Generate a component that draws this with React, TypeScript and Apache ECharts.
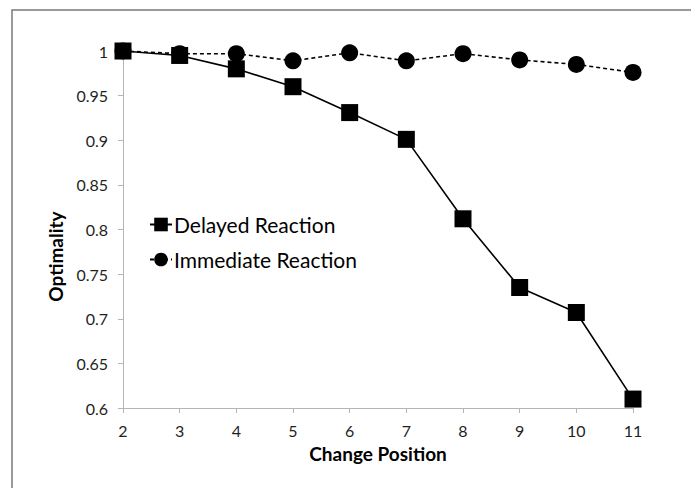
import React, { useEffect, useRef } from "react";
import * as echarts from "echarts";

const positions = [2, 3, 4, 5, 6, 7, 8, 9, 10, 11];
const delayedReaction = [1.0, 0.995, 0.98, 0.96, 0.931, 0.901, 0.812, 0.735, 0.707, 0.61];
const immediateReaction = [1.0, 0.997, 0.997, 0.989, 0.998, 0.989, 0.997, 0.99, 0.985, 0.976];
const seriesNames = ["Delayed Reaction", "Immediate Reaction"];
const xAxisTitle = "Change Position";
const yAxisTitle = "Optimality";

const FONT = "Lato, 'Open Sans', sans-serif";

export default function App() {
  const ref = useRef<HTMLDivElement>(null);
  useEffect(() => {
    document.body.style.margin = "0";
    if (!ref.current) return;
    const chart = echarts.init(ref.current, undefined, { renderer: "svg" });
    const axisLineColor = "#b5b5b5";
    const labelColor = "#1f1f1f";
    chart.setOption({
      animation: false,
      backgroundColor: "#ffffff",
      grid: { left: 123, right: 58, top: 51, bottom: 80, containLabel: false },
      graphic: [
        {
          type: "rect",
          z: -10,
          silent: true,
          shape: { x: 12, y: 10, width: 720, height: 520 },
          style: { fill: "none", stroke: "#7a7a7a", lineWidth: 1.5 },
        },
      ],
      legend: {
        orient: "vertical",
        left: 144,
        top: 209,
        itemWidth: 22,
        itemHeight: 17,
        itemGap: 14,
        textStyle: { fontSize: 21, color: "#000", fontFamily: FONT, padding: [0, 0, 0, -3] },
        data: seriesNames,
      },
      xAxis: {
        type: "value",
        min: 2,
        max: 11,
        interval: 1,
        name: xAxisTitle,
        nameLocation: "middle",
        nameGap: 36,
        nameTextStyle: { fontSize: 19, fontWeight: "bold", color: "#000", fontFamily: FONT },
        axisLine: { show: true, lineStyle: { color: axisLineColor, width: 1 } },
        axisTick: { show: true, length: 5, lineStyle: { color: axisLineColor } },
        axisLabel: { fontSize: 16, color: labelColor, fontFamily: FONT, margin: 14 },
        splitLine: { show: false },
      },
      yAxis: {
        type: "value",
        min: 0.6,
        max: 1,
        interval: 0.05,
        name: yAxisTitle,
        nameLocation: "middle",
        nameGap: 48,
        nameTextStyle: {
          fontSize: 19,
          fontWeight: "bold",
          color: "#000",
          fontFamily: FONT,
          padding: [0, 54, 0, 0],
        },
        axisLine: { show: true, lineStyle: { color: axisLineColor, width: 1 } },
        axisTick: { show: true, length: 5, lineStyle: { color: axisLineColor } },
        axisLabel: {
          fontSize: 16,
          color: labelColor,
          fontFamily: FONT,
          margin: 15,
          formatter: (v: number) => String(Math.round(v * 100) / 100),
        },
        splitLine: { show: false },
      },
      series: [
        {
          name: seriesNames[0],
          type: "line",
          data: positions.map((p, i) => [p, delayedReaction[i]]),
          symbol: "rect",
          symbolSize: 17,
          itemStyle: { color: "#000" },
          lineStyle: { color: "#000", width: 1.6, type: "solid" },
          z: 3,
        },
        {
          name: seriesNames[1],
          type: "line",
          data: positions.map((p, i) => [p, immediateReaction[i]]),
          symbol: "circle",
          symbolSize: 17,
          itemStyle: { color: "#000" },
          lineStyle: { color: "#000", width: 1.6, type: [4, 3] },
          z: 2,
        },
      ],
    });
    return () => chart.dispose();
  }, []);
  return <div ref={ref} style={{ width: 691, height: 488 }} />;
}
